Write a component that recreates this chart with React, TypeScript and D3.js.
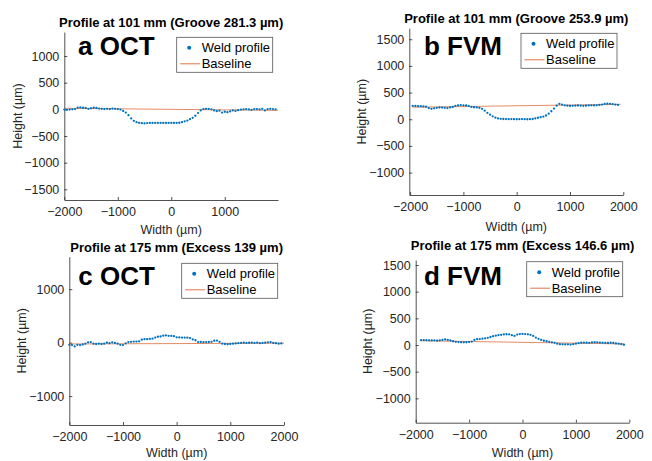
import React, { useEffect, useRef } from 'react';
import * as d3 from 'd3';

// a OCT - profile at 101 mm
const aWeldX = [-2000, -1950, -1900, -1850, -1800, -1750, -1700, -1650, -1600, -1550, -1500, -1450, -1400, -1350, -1300, -1250, -1200, -1150, -1100, -1050, -1000, -950, -900, -850, -800, -750, -700, -650, -600, -550, -500, -450, -400, -350, -300, -250, -200, -150, -100, -50, 0, 50, 100, 150, 200, 250, 300, 350, 400, 450, 500, 550, 600, 650, 700, 750, 800, 850, 900, 950, 1000, 1050, 1100, 1150, 1200, 1250, 1300, 1350, 1400, 1450, 1500, 1550, 1600, 1650, 1700, 1750, 1800, 1850, 1900, 1950];
const aWeldY = [-5, -10, -5, 0, 5, 30, 35, 30, 25, 10, 20, 30, 25, 15, 10, 5, 10, 5, 15, 10, 5, -5, -30, -60, -110, -170, -215, -240, -255, -260, -265, -258, -255, -255, -255, -255, -255, -255, -255, -255, -255, -255, -255, -252, -240, -225, -210, -185, -160, -120, -70, -20, 5, 10, 10, 0, -20, -35, -25, -60, -45, -55, -40, -20, -30, -15, -5, 0, 5, 0, -10, 5, 5, 0, 10, -20, 5, 10, 5, 0];
const aBaseX = [-2000, 1995];
const aBaseY = [20, -20];

// b FVM - profile at 101 mm
const bWeldX = [-1950, -1900, -1850, -1800, -1750, -1700, -1650, -1600, -1550, -1500, -1450, -1400, -1350, -1300, -1250, -1200, -1150, -1100, -1050, -1000, -950, -900, -850, -800, -750, -700, -650, -600, -550, -500, -450, -400, -350, -300, -250, -200, -150, -100, -50, 0, 50, 100, 150, 200, 250, 300, 350, 400, 450, 500, 550, 600, 650, 700, 750, 800, 850, 900, 950, 1000, 1050, 1100, 1150, 1200, 1250, 1300, 1350, 1400, 1450, 1500, 1550, 1600, 1650, 1700, 1750, 1800, 1850, 1900];
const bWeldY = [250, 250, 245, 245, 240, 235, 210, 195, 205, 215, 220, 218, 215, 210, 222, 230, 250, 262, 265, 262, 258, 250, 232, 225, 222, 215, 195, 160, 120, 85, 55, 30, 15, 8, 5, 3, 2, 3, 2, 0, 2, 3, 2, 0, 2, 5, 15, 28, 38, 50, 70, 105, 150, 200, 255, 290, 275, 262, 255, 250, 252, 255, 258, 255, 252, 255, 260, 262, 260, 262, 268, 275, 288, 292, 290, 285, 275, 268];
const bBaseX = [-1950, 1950];
const bBaseY = [225, 280];

// c OCT - profile at 175 mm
const cWeldX = [-2000, -1950, -1900, -1850, -1800, -1750, -1700, -1650, -1600, -1550, -1500, -1450, -1400, -1350, -1300, -1250, -1200, -1150, -1100, -1050, -1000, -950, -900, -850, -800, -750, -700, -650, -600, -550, -500, -450, -400, -350, -300, -250, -200, -150, -100, -50, 0, 50, 100, 150, 200, 250, 300, 350, 400, 450, 500, 550, 600, 650, 700, 750, 800, 850, 900, 950, 1000, 1050, 1100, 1150, 1200, 1250, 1300, 1350, 1400, 1450, 1500, 1550, 1600, 1650, 1700, 1750, 1800, 1850, 1900, 1950];
const cWeldY = [-40, -45, -70, -40, -45, -35, -20, 5, 10, -20, -25, -20, -25, -20, 0, -10, 5, -5, -20, -40, -45, -15, 10, 15, 20, 20, 25, 55, 65, 65, 70, 75, 95, 110, 115, 130, 135, 128, 125, 120, 100, 98, 95, 95, 92, 85, 60, 45, 10, 12, 8, 10, 12, 15, 35, 38, 15, -20, -25, -30, -25, -20, -15, -10, -5, 0, -5, -2, 0, -5, 0, -10, -5, 0, 5, 10, -5, -10, -20, -15];
const cBaseX = [-2000, 2000];
const cBaseY = [-25, -10];

// d FVM - profile at 175 mm
const dWeldX = [-1900, -1850, -1800, -1750, -1700, -1650, -1600, -1550, -1500, -1450, -1400, -1350, -1300, -1250, -1200, -1150, -1100, -1050, -1000, -950, -900, -850, -800, -750, -700, -650, -600, -550, -500, -450, -400, -350, -300, -250, -200, -150, -100, -50, 0, 50, 100, 150, 200, 250, 300, 350, 400, 450, 500, 550, 600, 650, 700, 750, 800, 850, 900, 950, 1000, 1050, 1100, 1150, 1200, 1250, 1300, 1350, 1400, 1450, 1500, 1550, 1600, 1650, 1700, 1750, 1800, 1850, 1900];
const dWeldY = [90, 92, 90, 88, 85, 88, 82, 85, 95, 105, 95, 85, 70, 60, 55, 52, 50, 52, 55, 65, 95, 110, 112, 118, 125, 135, 150, 165, 175, 185, 190, 198, 202, 200, 185, 170, 195, 205, 208, 205, 200, 190, 170, 140, 115, 95, 80, 70, 60, 50, 40, 25, 15, 12, 10, 12, 8, 15, 25, 35, 42, 45, 42, 40, 48, 52, 50, 45, 42, 40, 38, 42, 38, 30, 25, 15, 5];
const dBaseX = [-1900, 1900];
const dBaseY = [80, 20];

// titles, tags and ticks
const titles = [
  'Profile at 101 mm (Groove 281.3 µm)',
  'Profile at 101 mm (Groove 253.9 µm)',
  'Profile at 175 mm (Excess 139 µm)',
  'Profile at 175 mm (Excess 146.6 µm)',
];
const tags = ['a OCT', 'b FVM', 'c OCT', 'd FVM'];
const yTicksA = [-1500, -1000, -500, 0, 500, 1000];
const yTicksB = [-1000, -500, 0, 500, 1000, 1500];
const yTicksC = [-1000, 0, 1000];
const yTicksD = [-1000, -500, 0, 500, 1000, 1500];
const xTicksA = [-2000, -1000, 0, 1000];
const xTicksFull = [-2000, -1000, 0, 1000, 2000];
const legendLabels = ['Weld profile', 'Baseline'];

const FONT = '"Liberation Sans", Arial, sans-serif';
const BLUE = '#0072BD';
const ORANGE = '#D95319';
const AXIS = '#262626';

const App = () => {
  const ref = useRef<SVGSVGElement | null>(null);

  useEffect(() => {
    document.body.style.margin = '0';
    const svg = d3.select(ref.current);
    svg.selectAll('*').remove();

    const panels = [
      { wx: aWeldX, wy: aWeldY, bx: aBaseX, by: aBaseY, yt: yTicksA, xt: xTicksA,
        left: 64.3, right: 278, top: 32, bottom: 200, xd: [-2000, 1995], yd: [-1700, 1450],
        titleY: 26.5, tagX: 78, tagY: 55, legX: 176.7, legY: 37.3, ylabX: 17.7, xlabY: 234 },
      { wx: bWeldX, wy: bWeldY, bx: bBaseX, by: bBaseY, yt: yTicksB, xt: xTicksFull,
        left: 409.3, right: 623.3, top: 28.3, bottom: 195, xd: [-2015, 2000], yd: [-1420, 1705],
        titleY: 22.5, tagX: 424, tagY: 55, legX: 521, legY: 33.3, ylabX: 361.7, xlabY: 231 },
      { wx: cWeldX, wy: cWeldY, bx: cBaseX, by: cBaseY, yt: yTicksC, xt: xTicksFull,
        left: 69.3, right: 284, top: 256.7, bottom: 425, xd: [-2000, 2000], yd: [-1540, 1607],
        titleY: 251.5, tagX: 78.3, tagY: 285, legX: 181.7, legY: 263.3, ylabX: 21.7, xlabY: 457 },
      { wx: dWeldX, wy: dWeldY, bx: dBaseX, by: dBaseY, yt: yTicksD, xt: xTicksFull,
        left: 415.7, right: 629.3, top: 260, bottom: 422.7, xd: [-2000, 2000], yd: [-1457, 1594],
        titleY: 250, tagX: 424, tagY: 285, legX: 526.7, legY: 261.7, ylabX: 368.3, xlabY: 457 },
    ];

    panels.forEach((p, i) => {
      const x = d3.scaleLinear().domain(p.xd).range([p.left, p.right]);
      const y = d3.scaleLinear().domain(p.yd).range([p.bottom, p.top]);
      const g = svg.append('g').style('font-family', FONT);

      // axes (left + bottom only, ticks inward)
      const xAxis = g.append('g')
        .attr('transform', `translate(0,${p.bottom})`)
        .call(d3.axisBottom(x).tickValues(p.xt).tickSizeInner(-3).tickSizeOuter(0).tickPadding(7).tickFormat(d3.format('d')));
      const yAxis = g.append('g')
        .attr('transform', `translate(${p.left},0)`)
        .call(d3.axisLeft(y).tickValues(p.yt).tickSizeInner(-3).tickSizeOuter(0).tickPadding(6).tickFormat(d3.format('d')));
      [xAxis, yAxis].forEach(ax => {
        ax.select('.domain').attr('stroke', AXIS).attr('stroke-width', 0.8);
        ax.selectAll('.tick line').attr('stroke', AXIS).attr('stroke-width', 0.8);
        ax.selectAll('.tick text').attr('fill', AXIS).style('font-size', '12.5px').style('font-family', FONT);
      });
      yAxis.selectAll('.tick text').attr('x', -5);

      // baseline
      const basePts = p.bx.map((v, k) => [v, p.by[k]] as [number, number]);
      g.append('path')
        .datum(basePts)
        .attr('fill', 'none')
        .attr('stroke', ORANGE)
        .attr('stroke-width', 0.8)
        .attr('stroke-opacity', 0.85)
        .attr('d', d3.line<[number, number]>().x(d => x(d[0])).y(d => y(d[1])));

      // weld profile dots
      const weld = p.wx.map((v, k) => ({ x: v, y: p.wy[k] }));
      g.append('g')
        .selectAll('circle')
        .data(weld)
        .enter()
        .append('circle')
        .attr('cx', d => x(d.x))
        .attr('cy', d => y(d.y))
        .attr('r', 1.15)
        .attr('fill', BLUE);

      // title
      g.append('text')
        .attr('x', (p.left + p.right) / 2)
        .attr('y', p.titleY)
        .attr('text-anchor', 'middle')
        .style('font-size', '13px')
        .style('font-weight', 'bold')
        .attr('fill', '#000')
        .text(titles[i]);

      // panel tag
      g.append('text')
        .attr('x', p.tagX)
        .attr('y', p.tagY)
        .style('font-size', '26px')
        .style('font-weight', 'bold')
        .attr('fill', '#000')
        .text(tags[i]);

      // axis labels
      g.append('text')
        .attr('x', (p.left + p.right) / 2)
        .attr('y', p.xlabY)
        .attr('text-anchor', 'middle')
        .style('font-size', '12.5px')
        .attr('fill', AXIS)
        .text('Width (µm)');
      g.append('text')
        .attr('transform', `translate(${p.ylabX},${(p.top + p.bottom) / 2}) rotate(-90)`)
        .attr('text-anchor', 'middle')
        .attr('dominant-baseline', 'central')
        .style('font-size', '12.5px')
        .attr('fill', AXIS)
        .text('Height (µm)');

      // legend
      const leg = g.append('g').attr('transform', `translate(${p.legX},${p.legY})`);
      leg.append('rect')
        .attr('width', 96)
        .attr('height', 35)
        .attr('fill', '#fff')
        .attr('stroke', '#555')
        .attr('stroke-width', 0.8);
      leg.append('circle').attr('cx', 12.5).attr('cy', 10.5).attr('r', 2).attr('fill', BLUE);
      leg.append('line')
        .attr('x1', 3.5).attr('x2', 23.5).attr('y1', 26.5).attr('y2', 26.5)
        .attr('stroke', ORANGE).attr('stroke-width', 0.8);
      leg.selectAll('.lt')
        .data(legendLabels)
        .enter()
        .append('text')
        .attr('class', 'lt')
        .attr('x', 25)
        .attr('y', (d, k) => 10.5 + k * 16)
        .attr('dominant-baseline', 'central')
        .style('font-size', '13px')
        .attr('fill', '#000')
        .text(d => d);
    });
  }, []);

  return <svg ref={ref} width={652} height={461} style={{ display: 'block', background: '#fff' }} />;
};

export default App;
